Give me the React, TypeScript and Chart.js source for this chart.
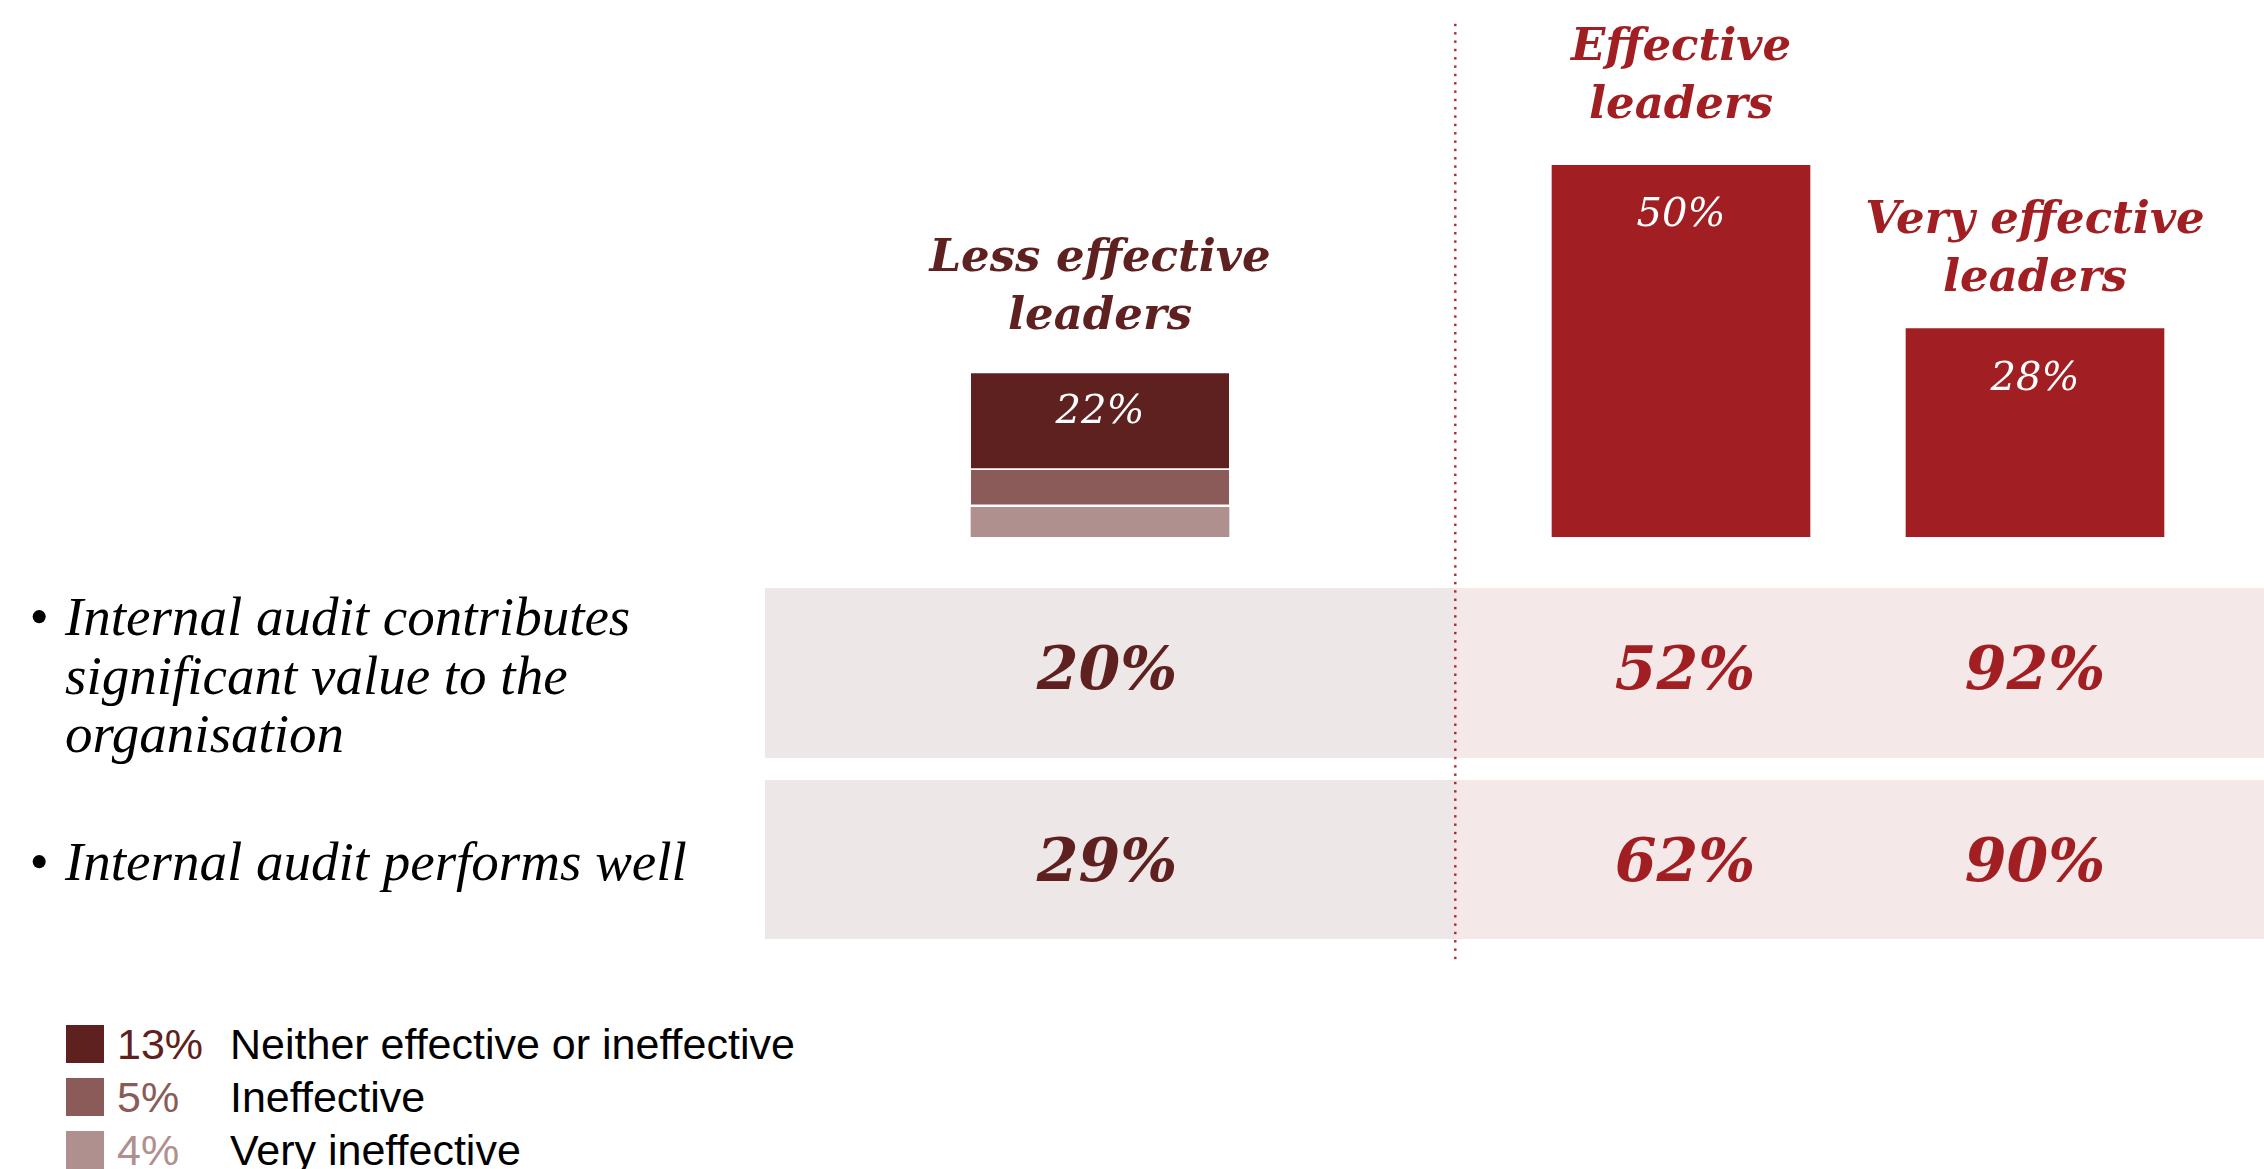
import React, { useEffect, useRef } from "react";
import { Chart, registerables } from "chart.js";

Chart.register(...registerables);

// ---------------- DATA ----------------
const categories = ["Less effective leaders", "Effective leaders", "Very effective leaders"];
const headingLines = [
  ["Less effective", "leaders"],
  ["Effective", "leaders"],
  ["Very effective", "leaders"],
];
// breakdown of the "Less effective leaders" bar (22% in total)
const neitherValues = [13];
const ineffectiveValues = [5];
const veryIneffectiveValues = [4];
// share of effective / very effective leaders
const effectiveValues = [50, 28];

const rowLabels = [
  ["Internal audit contributes", "significant value to the", "organisation"],
  ["Internal audit performs well"],
];
const contributesValues = [20, 52, 92];
const performsValues = [29, 62, 90];

const legendValues = [13, 5, 4];
const legendLabels = ["Neither effective or ineffective", "Ineffective", "Very ineffective"];

// ---------------- STYLE / LAYOUT ----------------
const DARK = "#5F2120";
const MEDIUM = "#8A5B58";
const LIGHT = "#B0908E";
const RED = "#A11F22";
const BAND_LEFT = "#EEE7E7";
const BAND_RIGHT = "#F4E8E8";
const legendColors = [DARK, MEDIUM, LIGHT];

const CANVAS_H = 970;
const PLOT_TOP = 165;
const PLOT_BOTTOM = 537;
const ROW_BANDS = [
  [588, 758],
  [780, 939],
];
const ROW_VALUE_BASELINES = [689, 881];
const rowSeries = [contributesValues, performsValues];
const headingGap = [44, 47, 38];
const labelDrop = [50, 61, 61];
const valueDx = [7, 4, 0];
const HEADING_LH = 58;
const SERIF = "'DejaVu Serif', serif";

function makeOverlay(o: {
  startIndex: number;
  bandX: number;
  bandColor: string;
  headingColor: string;
  valueColor: string;
  dotX?: number;
}) {
  return {
    id: "overlay",
    beforeDraw(chart: any) {
      const { ctx, width } = chart;
      ctx.save();
      ctx.fillStyle = o.bandColor;
      for (const [t, b] of ROW_BANDS) ctx.fillRect(o.bandX, t, width - o.bandX, b - t);
      ctx.restore();
    },
    afterDraw(chart: any) {
      const ctx = chart.ctx;
      const xs = chart.scales.x;
      const ys = chart.scales.y;
      ctx.save();
      ctx.textAlign = "center";
      ctx.textBaseline = "alphabetic";
      (chart.data.labels as string[]).forEach((_: string, i: number) => {
        const gi = o.startIndex + i;
        const cx = xs.getPixelForValue(i);
        const total = chart.data.datasets.reduce((s: number, d: any) => s + (d.data[i] as number), 0);
        const top = ys.getPixelForValue(total);
        ctx.font = `italic 40px ${SERIF}`;
        ctx.fillStyle = "#ffffff";
        ctx.fillText(`${total}%`, cx, top + labelDrop[gi]);
        ctx.font = `italic bold 45px ${SERIF}`;
        ctx.fillStyle = o.headingColor;
        const lines = headingLines[gi];
        lines.forEach((ln, k) => {
          ctx.fillText(ln, cx, top - headingGap[gi] - (lines.length - 1 - k) * HEADING_LH);
        });
        ctx.font = `italic bold 60px ${SERIF}`;
        ctx.fillStyle = o.valueColor;
        rowSeries.forEach((vals, r) => ctx.fillText(`${vals[gi]}%`, cx + valueDx[gi], ROW_VALUE_BASELINES[r]));
      });
      if (o.dotX !== undefined) {
        ctx.fillStyle = "#B0272B";
        for (let y = 25; y <= 962; y += 8.33) {
          ctx.fillRect(o.dotX - 1.2, y - 1.2, 2.4, 2.4);
        }
      }
      ctx.restore();
    },
  };
}

function baseOptions(padding: any) {
  return {
    responsive: false,
    animation: false as const,
    events: [],
    layout: { padding },
    plugins: { legend: { display: false }, tooltip: { enabled: false } },
    scales: {
      x: { display: false, stacked: true },
      y: { display: false, stacked: true, min: 0, max: 50 },
    },
  };
}

const barStyle = { barThickness: 258, borderSkipped: false as const, borderColor: "#ffffff" };

export default function App() {
  const leftRef = useRef<HTMLCanvasElement>(null);
  const rightRef = useRef<HTMLCanvasElement>(null);

  useEffect(() => {
    const left = new Chart(leftRef.current!, {
      type: "bar",
      data: {
        labels: categories.slice(0, 1),
        datasets: [
          { label: legendLabels[2], data: veryIneffectiveValues, backgroundColor: LIGHT, ...barStyle, borderWidth: 0 },
          {
            label: legendLabels[1],
            data: ineffectiveValues,
            backgroundColor: MEDIUM,
            ...barStyle,
            borderWidth: { top: 0, left: 0, right: 0, bottom: 3 },
          },
          {
            label: legendLabels[0],
            data: neitherValues,
            backgroundColor: DARK,
            ...barStyle,
            borderWidth: { top: 0, left: 0, right: 0, bottom: 2 },
          },
        ],
      },
      options: baseOptions({ top: PLOT_TOP, bottom: CANVAS_H - PLOT_BOTTOM, left: 0, right: 20 }) as any,
      plugins: [
        makeOverlay({ startIndex: 0, bandX: 0, bandColor: BAND_LEFT, headingColor: DARK, valueColor: DARK }),
      ],
    });
    const right = new Chart(rightRef.current!, {
      type: "bar",
      data: {
        labels: categories.slice(1),
        datasets: [
          { label: "Share of leaders", data: effectiveValues, backgroundColor: RED, ...barStyle, borderWidth: 0 },
        ],
      },
      options: baseOptions({ top: PLOT_TOP, bottom: CANVAS_H - PLOT_BOTTOM, left: 64, right: 52 }) as any,
      plugins: [
        makeOverlay({ startIndex: 1, bandX: 15, bandColor: BAND_RIGHT, headingColor: RED, valueColor: RED, dotX: 15.3 }),
      ],
    });
    return () => {
      left.destroy();
      right.destroy();
    };
  }, []);

  const labelFont = "'Liberation Serif', 'Times New Roman', serif";
  const sans = "'Liberation Sans', Arial, sans-serif";
  const rowTops = [588, 833];

  return (
    <div
      style={{
        position: "fixed",
        left: 0,
        top: 0,
        width: 2264,
        height: 1169,
        overflow: "hidden",
        background: "#ffffff",
      }}
    >
      <canvas ref={leftRef} width={690} height={CANVAS_H} style={{ position: "absolute", left: 765, top: 0 }} />
      <canvas ref={rightRef} width={824} height={CANVAS_H} style={{ position: "absolute", left: 1440, top: 0 }} />

      {rowLabels.map((lines, r) => (
        <div key={r}>
          <div
            style={{
              position: "absolute",
              left: 29,
              top: rowTops[r],
              font: `italic 55px ${labelFont}`,
              lineHeight: "58.5px",
              color: "#000",
              whiteSpace: "nowrap",
            }}
          >
            •
          </div>
          <div
            style={{
              position: "absolute",
              left: 65,
              top: rowTops[r],
              font: `italic 55px ${labelFont}`,
              lineHeight: "58.5px",
              color: "#000",
              whiteSpace: "nowrap",
            }}
          >
            {lines.map((ln, k) => (
              <div key={k}>{ln}</div>
            ))}
          </div>
        </div>
      ))}

      {legendLabels.map((lab, i) => (
        <div key={i}>
          <div
            style={{
              position: "absolute",
              left: 66,
              top: 1025 + i * 53,
              width: 38,
              height: 38,
              background: legendColors[i],
            }}
          />
          <div
            style={{
              position: "absolute",
              left: 117,
              top: 1025 + i * 53,
              font: `43px ${sans}`,
              lineHeight: "38px",
              color: legendColors[i],
              whiteSpace: "nowrap",
            }}
          >
            {legendValues[i]}%
          </div>
          <div
            style={{
              position: "absolute",
              left: 230,
              top: 1025 + i * 53,
              font: `43px ${sans}`,
              lineHeight: "38px",
              color: "#000",
              whiteSpace: "nowrap",
            }}
          >
            {lab}
          </div>
        </div>
      ))}
    </div>
  );
}
